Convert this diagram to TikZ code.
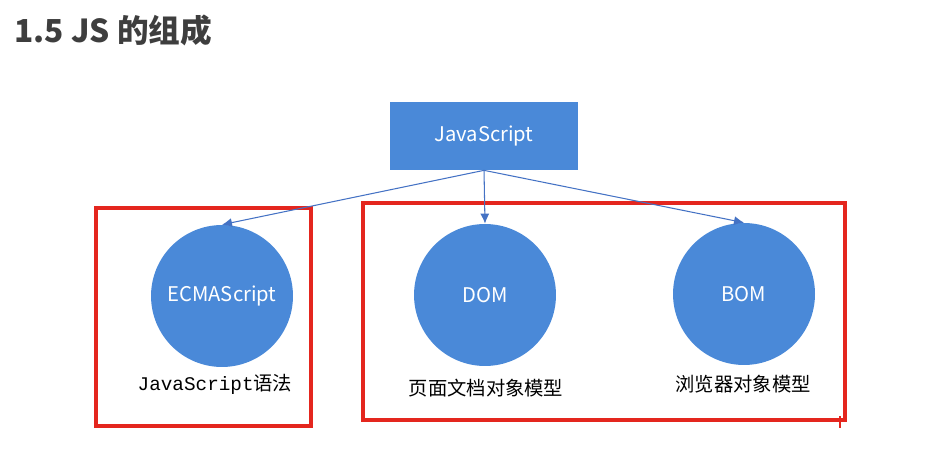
\documentclass[tikz,border=0pt]{standalone}
\usepackage{fontspec}
\setmainfont{Noto Sans CJK SC}
\newfontfamily\monofont{Liberation Mono}
\usetikzlibrary{arrows.meta}

\definecolor{jsblue}{RGB}{74,137,216}
\definecolor{linkblue}{RGB}{68,114,196}
\definecolor{framered}{RGB}{228,38,30}
\definecolor{titlegray}{RGB}{62,62,62}

\begin{document}
\begin{tikzpicture}[x=0.02cm, y=-0.02cm,
    jsbox/.style={rectangle, fill=jsblue, text=white, minimum width=3.76cm, minimum height=1.36cm, font=\fontsize{11.5}{14}\selectfont},
    part/.style={circle, fill=jsblue, text=white, minimum size=2.84cm, inner sep=0pt, font=\fontsize{11.5}{14}\selectfont},
    link/.style={draw=linkblue, line width=0.6pt, -{Latex[length=2mm,width=1.8mm]}},
    group/.style={draw=framered, line width=2pt},
    note/.style={font=\fontsize{11}{13}\selectfont}]

    % Рамка рисунка
    \useasboundingbox (0,0) rectangle (945,475);

    % Заголовок
    \node[anchor=west, text=titlegray, font=\fontsize{18}{21}\selectfont\bfseries] (title) at (8,30) {1.5 JS 的组成};

    % Красные рамки
    \draw[group] (96,208) rectangle (311,426);
    \draw[group] (363,203) rectangle (845,420);
    \draw[framered, line width=0.8pt] (840,416) -- (840,428);

    % Блок JavaScript
    \node[jsbox] (js) at (484,136) {JavaScript};

    % Три части
    \node[part] (ecma) at (222,296) {ECMAScript};
    \node[part] (dom) at (485,295) {DOM};
    \node[part] (bom) at (744,294) {BOM};

    % Стрелки
    \draw[link] (js.south) -- (ecma.north);
    \draw[link] (js.south) -- (dom.north);
    \draw[link] (js.south) -- (bom.north);

    % Подписи
    \node[note] (ecmanote) at (215,384) {{\monofont JavaScript}语法};
    \node[note] (domnote) at (486,388) {页面文档对象模型};
    \node[note] (bomnote) at (743,384) {浏览器对象模型};
\end{tikzpicture}
\end{document}
